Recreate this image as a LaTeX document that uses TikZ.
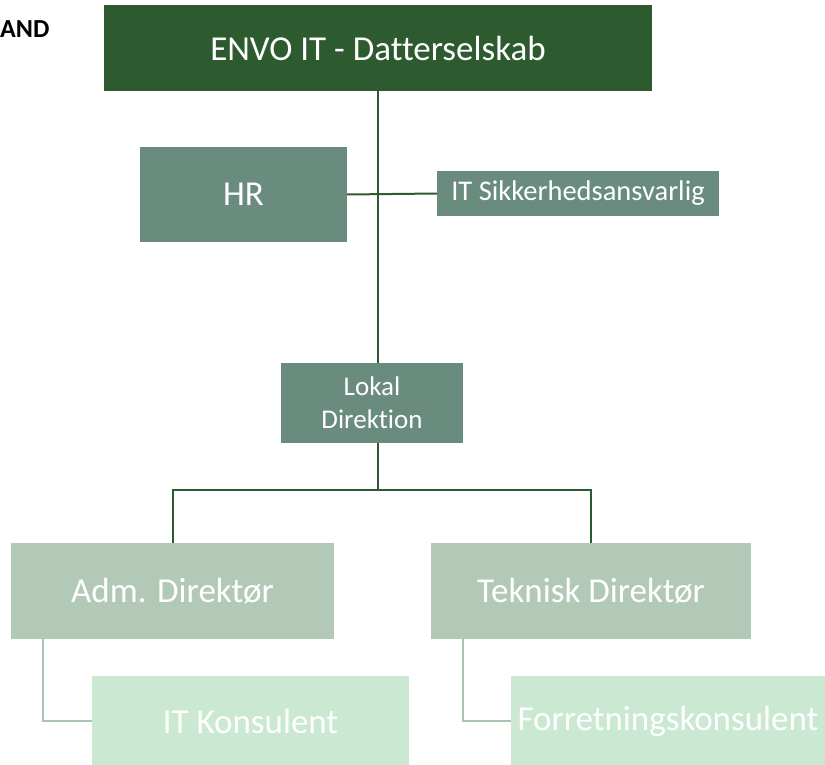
\documentclass[tikz,border=0pt]{standalone}
\usepackage{fontspec}
\setmainfont{Carlito}[Ligatures={NoCommon}]
\usetikzlibrary{positioning, calc}

\definecolor{envodark}{HTML}{2E5A30}
\definecolor{staffgreen}{HTML}{6A8C7E}
\definecolor{dirgreen}{HTML}{B2C9B7}
\definecolor{consgreen}{HTML}{CBE8D3}
\definecolor{subline}{HTML}{A9C3AE}

\begin{document}
\begin{tikzpicture}[x=1pt, y=-1pt,
    orgbox/.style={inner sep=0pt, text=white, align=center,
        font=\fontsize{35}{41}\selectfont},
    mainline/.style={draw=envodark, line width=2pt},
    sideline/.style={draw=subline, line width=2pt}]
        % page frame
        \clip (0, 0) rectangle (825, 765);

        % Top level and staff functions
        \node[anchor=west, inner sep=0pt, font=\bfseries\fontsize{26}{30}\selectfont] (region) at (0, 29) {AND};
        \node[orgbox, fill=envodark, minimum width=548, minimum height=86] (envo) at (378, 48) {ENVO IT - Datterselskab};
        \node[orgbox, fill=staffgreen, minimum width=207, minimum height=95] (hr) at (243.5, 194.5) {HR};
        \node[orgbox, fill=staffgreen, minimum width=282, minimum height=45,
            font=\fontsize{28.5}{34}\selectfont] (itsik) at (578, 193.5) {IT Sikkerhedsansvarlig};
        \node[orgbox, fill=staffgreen, minimum width=182, minimum height=80,
            font=\fontsize{27}{33}\selectfont] (lokal) at (372, 403) {Lokal\\Direktion};

        % Directors and consultants
        \node[orgbox, fill=dirgreen, minimum width=323, minimum height=96] (adm) at (172.5, 591) {Adm. Direktør};
        \node[orgbox, fill=dirgreen, minimum width=320, minimum height=96] (tek) at (591, 591) {Teknisk Direktør};
        \node[orgbox, fill=consgreen, minimum width=317, minimum height=90] (itk) at (250.5, 721) {IT Konsulent};
        \node[orgbox, fill=consgreen, minimum width=314, minimum height=90] (forr) at (668, 721) {Forretningskonsulent};

        % Connectors
        \coordinate (branch) at (378, 490);
        \draw[mainline] (envo.south) -- (envo.south |- lokal.north);
        \draw[mainline] (hr.east) -- (itsik.west);
        \draw[mainline] (envo.south |- lokal.south) -- (branch);
        \draw[mainline] (adm.north) |- (branch) -| (tek.north);
        \draw[sideline] ([xshift=32pt]adm.south west) |- (itk.west);
        \draw[sideline] ([xshift=32pt]tek.south west) |- (forr.west);
    \end{tikzpicture}
\end{document}
